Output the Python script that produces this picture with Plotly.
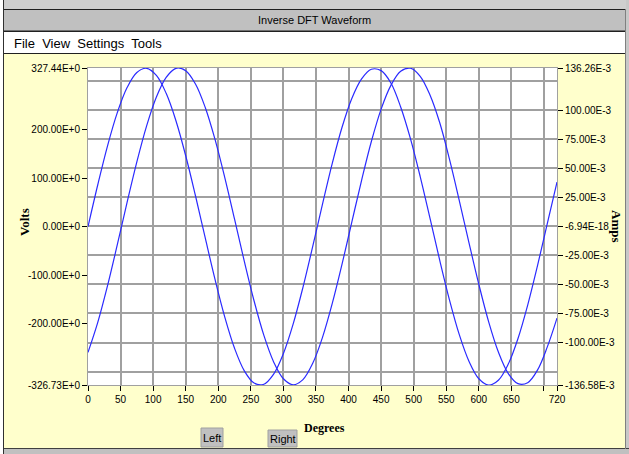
import plotly.graph_objects as go

# ---- data ----
degrees = list(range(0, 721, 15))
volts = [0.0, 86.5, 166.9, 235.3, 287.0, 318.2, 326.8, 312.1, 275.1, 218.6,
         146.4, 63.8, -23.3, -108.8, -186.5, -251.0, -297.5, -322.8, -325.1,
         -304.3, -261.7, -200.6, -125.1, -40.7, 46.5, 130.7, 205.1, 264.6,
         305.0, 324.8, 322.0, 296.5, 247.1, 181.7, 103.3, 17.5, -69.5, -151.5,
         -222.8, -278.2, -313.8, -326.9, -316.8, -284.1, -231.2, -161.8, -80.9,
         5.8, 92.1]
amps = [-0.1085, -0.0827, -0.0511, -0.0158, 0.0206, 0.0555, 0.0865, 0.1113,
        0.1282, 0.1360, 0.1340, 0.1225, 0.1023, 0.0748, 0.0419, 0.0061,
        -0.0302, -0.0643, -0.0939, -0.1167, -0.1312, -0.1364, -0.1319, -0.1179,
        -0.0956, -0.0664, -0.0326, 0.0036, 0.0396, 0.0730, 0.1009, 0.1213,
        0.1334, 0.1361, 0.1291, 0.1130, 0.0891, 0.0576, 0.0222, -0.0145,
        -0.0499, -0.0820, -0.1082, -0.1265, -0.1354, -0.1346, -0.1238,
        -0.1040, -0.0790]

x_ticks = [0, 50, 100, 150, 200, 250, 300, 350, 400, 450, 500, 550, 600, 650, 700, 720]
x_labels = ["0", "50", "100", "150", "200", "250", "300", "350", "400", "450",
            "500", "550", "600", "650", "", "720"]
v_ticks = [-326.73, -200, -100, 0, 100, 200, 327.44]
v_labels = ["-326.73E+0", "-200.00E+0", "-100.00E+0", "0.00E+0",
            "100.00E+0", "200.00E+0", "327.44E+0"]
a_ticks = [-0.13658, -0.1, -0.075, -0.05, -0.025, 0, 0.025, 0.05, 0.075, 0.1, 0.13626]
a_labels = ["-136.58E-3", "-100.00E-3", "-75.00E-3", "-50.00E-3", "-25.00E-3",
            "-6.94E-18", "25.00E-3", "50.00E-3", "75.00E-3", "100.00E-3", "136.26E-3"]

# ---- layout geometry ----
W, H = 629, 454
L, R, T, B = 88, 557, 68, 385


def px(x):
    return (x - L) / (R - L)


def py(y):
    return (B - y) / (B - T)


SANS = "Liberation Sans, Arial, sans-serif"
SERIF = "Liberation Serif, Times New Roman, serif"
GRID = "#a0a0a0"

fig = go.Figure()
fig.add_trace(go.Scatter(x=degrees, y=volts, mode="lines", name="Volts",
                         line=dict(color="#2a2aff", width=1.2, shape="spline"),
                         yaxis="y"))
fig.add_trace(go.Scatter(x=degrees, y=amps, mode="lines", name="Amps",
                         line=dict(color="#2a2aff", width=1.2, shape="spline"),
                         yaxis="y2"))


def rect(x0, y0, x1, y1, fill, line=None, lw=1):
    return dict(type="rect", xref="paper", yref="paper",
                x0=px(x0), x1=px(x1), y0=py(y1), y1=py(y0),
                fillcolor=fill, line=dict(color=line or fill, width=lw if line else 0),
                layer="above")


def hline(x0, x1, y, color, lw=1):
    return dict(type="line", xref="paper", yref="paper",
                x0=px(x0), x1=px(x1), y0=py(y), y1=py(y),
                line=dict(color=color, width=lw), layer="above")


def vline(x, y0, y1, color, lw=1):
    return dict(type="line", xref="paper", yref="paper",
                x0=px(x), x1=px(x), y0=py(y0), y1=py(y1),
                line=dict(color=color, width=lw), layer="above")


shapes = [
    rect(0, 0, 3, 454, "#ffffff"),
    rect(3, 0, 629, 9, "#cfcfcf"),
    rect(3.5, 9.5, 626, 31, "#c0c0c0", "#202020", 1),
    rect(3.5, 31.5, 626, 53.5, "#ffffff", "#202020", 1),
    rect(626, 0, 629, 454, "#c8c8c8"),
    rect(3, 449, 629, 454, "#c0c0c0"),
    hline(3, 629, 448.5, "#404040", 1),
    vline(3.5, 0, 454, "#303030", 1),
    vline(625.5, 9, 449, "#808080", 1),
    # buttons
    rect(201, 428, 223, 447, "#c0c0c0", "#a0a0a0", 1),
    rect(268, 430, 297, 447, "#c0c0c0", "#a0a0a0", 1),
]


def label(text, x, y, font, angle=0, xanchor="center"):
    return dict(text=text, x=px(x), y=py(y), xref="paper", yref="paper",
                xanchor=xanchor, yanchor="middle", textangle=angle,
                showarrow=False, font=font)


annotations = [
    label("Inverse DFT Waveform", 314, 20, dict(family=SANS, size=11, color="#000000")),
    label("File  View  Settings  Tools", 12, 43,
          dict(family=SANS, size=13, color="#000000"), xanchor="left"),
    label("<b>Volts</b>", 24, 222, dict(family=SERIF, size=13, color="#000000"), angle=-90),
    label("<b>Amps</b>", 617, 226, dict(family=SERIF, size=13, color="#000000"), angle=90),
    label("<b>Degrees</b>", 324, 428, dict(family=SERIF, size=12, color="#000000")),
    label("Left", 212, 438, dict(family=SANS, size=11, color="#000000")),
    label("Right", 282.5, 439, dict(family=SANS, size=11, color="#000000")),
]

tickfont = dict(family=SANS, size=10, color="#000000")

fig.update_layout(
    width=W, height=H,
    margin=dict(l=L, r=W - R, t=T, b=H - B, pad=0, autoexpand=False),
    paper_bgcolor="#ffffcc",
    plot_bgcolor="#ffffff",
    showlegend=False,
    shapes=shapes,
    annotations=annotations,
    xaxis=dict(range=[0, 720], tickmode="array", tickvals=x_ticks, ticktext=x_labels,
               showgrid=True, gridcolor=GRID, gridwidth=1.5, zeroline=False,
               ticks="outside", ticklen=5, tickcolor="#000000", tickfont=tickfont,
               showline=True, linecolor=GRID, mirror=True, fixedrange=True,
               automargin=False),
    yaxis=dict(range=[-326.73, 327.44], tickmode="array", tickvals=v_ticks,
               ticktext=v_labels, showgrid=False, zeroline=False,
               ticks="outside", ticklen=5, tickcolor="#000000", tickfont=tickfont,
               showline=True, linecolor=GRID, fixedrange=True, automargin=False),
    yaxis2=dict(range=[-0.13658, 0.13626], overlaying="y", side="right",
                tickmode="array", tickvals=a_ticks, ticktext=a_labels,
                showgrid=True, gridcolor=GRID, gridwidth=1.5, zeroline=False,
                ticks="outside", ticklen=5, tickcolor="#000000", tickfont=tickfont,
                minor=dict(tickvals=[-0.125, 0.125], showgrid=True, gridcolor=GRID,
                           gridwidth=1.5, ticks=""),
                showline=True, linecolor=GRID, fixedrange=True, automargin=False),
)

fig.write_html("out.html", config={"displayModeBar": False},
               post_script="document.body.style.margin='0';document.body.style.overflow='hidden';")
